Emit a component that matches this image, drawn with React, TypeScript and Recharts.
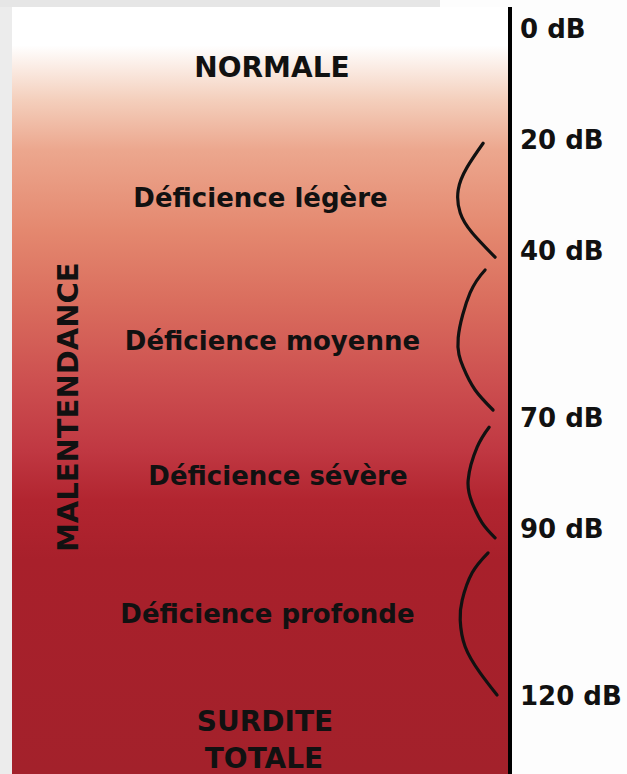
import {
	ComposedChart,
	Line,
	ReferenceArea,
	Scatter,
	XAxis,
	YAxis,
} from "recharts";

// dB scale ticks on the right-hand axis
const dbTicks = [0, 20, 40, 70, 90, 120];

// band labels: text, horizontal position (0-100) and baseline level (dB)
const labelTexts = [
	"NORMALE",
	"Déficience légère",
	"Déficience moyenne",
	"Déficience sévère",
	"Déficience profonde",
	"SURDITE",
	"TOTALE",
];
const labelU = [52.2, 49.9, 52.3, 53.4, 51.3, 50.8, 50.6];
const labelDb = [8.7, 32.1, 57.8, 82.1, 106.9, 126.3, 133.1];

// side label, read bottom to top
const sideText = "MALENTENDANCE";
const sideU = 13.3;
const sideDb = 68.1;

// bracket strokes, [u, dB] points
const bracketLegere = [
	[94.6, 20.6],
	[91.4, 24.9],
	[89.6, 29.0],
	[90.0, 33.1],
	[92.4, 36.7],
	[97.0, 41.1],
];
const bracketMoyenne = [
	[95.0, 43.4],
	[92.0, 47.5],
	[89.6, 55.6],
	[90.6, 60.9],
	[93.0, 65.0],
	[96.6, 68.6],
];
const bracketSevere = [
	[95.8, 71.7],
	[93.4, 75.3],
	[91.6, 81.2],
	[92.4, 85.3],
	[94.4, 88.9],
	[97.0, 91.6],
];
const bracketProfonde = [
	[95.6, 94.3],
	[92.4, 97.9],
	[90.4, 102.8],
	[90.0, 106.4],
	[91.0, 111.2],
	[94.0, 115.9],
	[97.4, 119.9],
];

const brackets = [bracketLegere, bracketMoyenne, bracketSevere, bracketProfonde].map(
	(pts) => pts.map(([u, db]) => ({ u, db })),
);

const labelData = labelTexts.map((text, i) => ({ u: labelU[i], db: labelDb[i], text }));
const sideData = [{ u: sideU, db: sideDb, text: sideText }];

const BOLD_FONT = "'DejaVu Sans', 'Liberation Sans', sans-serif";

const LabelShape = (props: any) => {
	const { cx, cy, payload } = props;
	const caps = payload.text === payload.text.toUpperCase();
	return (
		<text
			x={cx}
			y={cy}
			textAnchor="middle"
			fontFamily={BOLD_FONT}
			fontWeight="bold"
			fontSize={caps ? 28 : 26}
			fill="#111"
		>
			{payload.text}
		</text>
	);
};

const SideShape = (props: any) => {
	const { cx, cy, payload } = props;
	return (
		<text
			x={cx}
			y={cy}
			textAnchor="middle"
			fontFamily={BOLD_FONT}
			fontWeight="bold"
			fontSize={29}
			fill="#111"
			transform={`rotate(-90, ${cx}, ${cy})`}
		>
			{payload.text}
		</text>
	);
};

export default function App() {
	return (
		<div
			style={{
				position: "fixed",
				top: 0,
				left: 0,
				width: 627,
				height: 774,
				background: "#fdfdfd",
				overflow: "hidden",
			}}
		>
			<div style={{ position: "absolute", left: 0, top: 0, width: 12, height: 774, background: "#ececec" }} />
			<div style={{ position: "absolute", left: 0, top: 0, width: 440, height: 7, background: "#e6e6e6" }} />
			<div style={{ position: "absolute", left: 0, top: 0 }}>
				<ComposedChart
					width={627}
					height={774}
					margin={{ top: 7, right: 7, bottom: 0, left: 12 }}
				>
					<defs>
						<linearGradient id="hearingFill" x1="0" y1="0" x2="0" y2="1">
							<stop offset="0" stopColor="#ffffff" />
							<stop offset="0.05" stopColor="#ffffff" />
							<stop offset="0.121" stopColor="#f4cfbc" />
							<stop offset="0.186" stopColor="#eca78e" />
							<stop offset="0.291" stopColor="#e4886f" />
							<stop offset="0.382" stopColor="#da6e5e" />
							<stop offset="0.486" stopColor="#cd5050" />
							<stop offset="0.578" stopColor="#c03842" />
							<stop offset="0.643" stopColor="#b22530" />
							<stop offset="0.721" stopColor="#a8202b" />
							<stop offset="1" stopColor="#a3212b" />
						</linearGradient>
					</defs>
					<XAxis type="number" dataKey="u" domain={[0, 100]} hide />
					<YAxis
						type="number"
						dataKey="db"
						orientation="right"
						reversed
						domain={[-3.92, 134.1]}
						allowDataOverflow
						ticks={dbTicks}
						interval={0}
						width={110}
						tickLine={false}
						tickSize={0}
						tickMargin={10}
						axisLine={{ stroke: "#000", strokeWidth: 4 }}
						tickFormatter={(v) => `${v} dB`}
						tick={{
							fill: "#111",
							fontSize: 26,
							fontWeight: "bold",
							fontFamily: BOLD_FONT,
							textAnchor: "start",
						}}
					/>
					<ReferenceArea
						x1={0}
						x2={100}
						y1={-3.92}
						y2={134.1}
						fill="url(#hearingFill)"
						fillOpacity={1}
						stroke="none"
					/>
					{brackets.map((data, i) => (
						<Line
							key={i}
							data={data}
							dataKey="db"
							type="natural"
							stroke="#111"
							strokeWidth={3.2}
							strokeLinecap="round"
							dot={false}
							activeDot={false}
							isAnimationActive={false}
						/>
					))}
					<Scatter data={labelData} dataKey="db" shape={LabelShape} isAnimationActive={false} />
					<Scatter data={sideData} dataKey="db" shape={SideShape} isAnimationActive={false} />
				</ComposedChart>
			</div>
		</div>
	);
}
